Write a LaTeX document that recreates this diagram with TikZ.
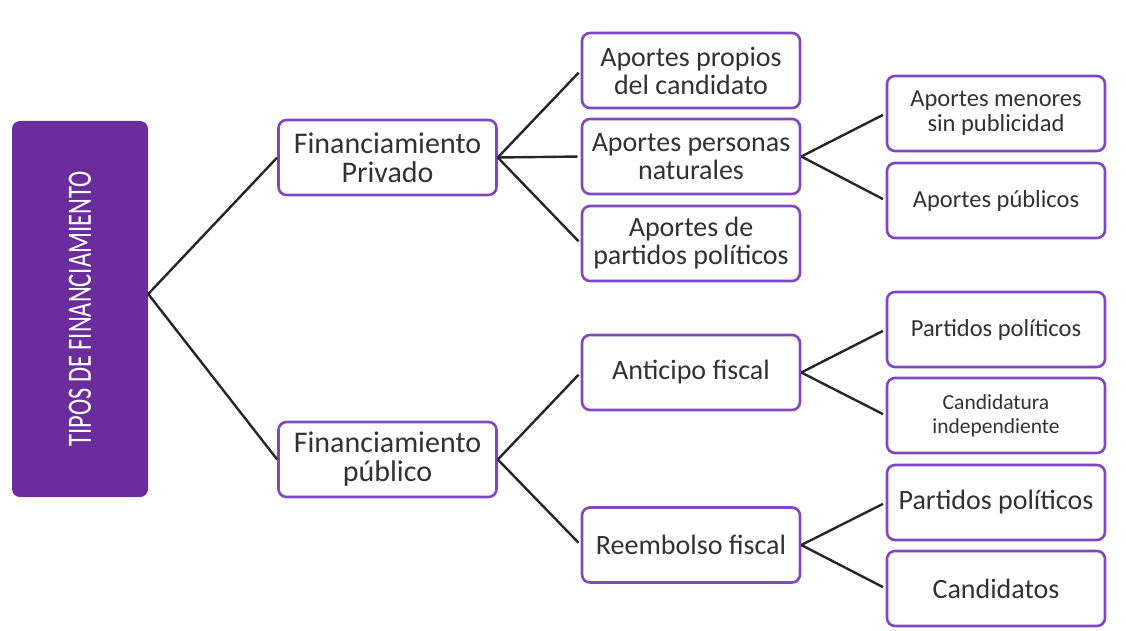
\documentclass[tikz,border=0pt]{standalone}
\usepackage{fontspec}
\setmainfont{Carlito}
\usepackage{tikz}
\usetikzlibrary{positioning}
\definecolor{lila}{RGB}{128,72,190}
\definecolor{lilafondo}{RGB}{106,45,155}
\definecolor{textogris}{RGB}{50,50,50}

\begin{document}
\begin{tikzpicture}[x=1pt,y=-1pt,
caja/.style={draw=lila,line width=2.6pt,rounded corners=8pt,fill=white,minimum width=218pt,minimum height=75pt,align=center,text=textogris,inner sep=0pt},
nivelA/.style={caja,font=\fontsize{30}{29}\selectfont},
nivelB/.style={caja,font=\fontsize{28}{28}\selectfont},
nivelC/.style={caja,font=\fontsize{24.5}{25}\selectfont},
rama/.style={line width=2.4pt,black!85}]
\useasboundingbox (0,0) rectangle (1126,631);
\node[fill=lilafondo,rounded corners=8pt,minimum width=136pt,minimum height=376pt,inner sep=0pt] (tipos) at (80,309)
{\rotatebox{90}{\scalebox{0.72}[1]{\fontsize{34}{34}\selectfont\color{white}TIPOS DE FINANCIAMIENTO}}};
\coordinate (vertice) at ([yshift=15pt]tipos.east);

\node[nivelA] (fpriv) at (387.5,157.5) {Financiamiento\\Privado};
\node[nivelA] (fpub) at (387.5,459.5) {Financiamiento\\público};

\node[nivelB] (propios) at (691,70.5) {Aportes propios\\del candidato};
\node[nivelB] (personas) at (691,156.5) {Aportes personas\\naturales};
\node[nivelB] (partidos) at (691,243.5) {Aportes de\\partidos políticos};
\node[nivelB] (anticipo) at (691,372.5) {Anticipo fiscal};
\node[nivelB] (reembolso) at (691,545) {Reembolso fiscal};

\node[nivelC] (menores) at (996,113.5) {Aportes menores\\sin publicidad};
\node[nivelC] (publicos) at (996,200.5) {Aportes públicos};
\node[nivelC] (antpartidos) at (996,329.5) {Partidos políticos};
\node[nivelC,font=\fontsize{21.5}{24}\selectfont] (independiente) at (996,415.5) {Candidatura\\independiente};
\node[nivelC,font=\fontsize{28}{26}\selectfont] (reempartidos) at (996,502.5) {Partidos políticos};
\node[nivelC,font=\fontsize{28}{26}\selectfont] (candidatos) at (996,588.5) {Candidatos};

\draw[rama] (vertice) -- (fpriv.west);
\draw[rama] (vertice) -- (fpub.west);
\foreach \desde/\hasta in {fpriv/propios,fpriv/personas,fpriv/partidos,fpub/anticipo,fpub/reembolso,
  personas/menores,personas/publicos,anticipo/antpartidos,anticipo/independiente,
  reembolso/reempartidos,reembolso/candidatos}
  \draw[rama,shorten >=3pt] (\desde.east) -- (\hasta.west);
\end{tikzpicture}
\end{document}
